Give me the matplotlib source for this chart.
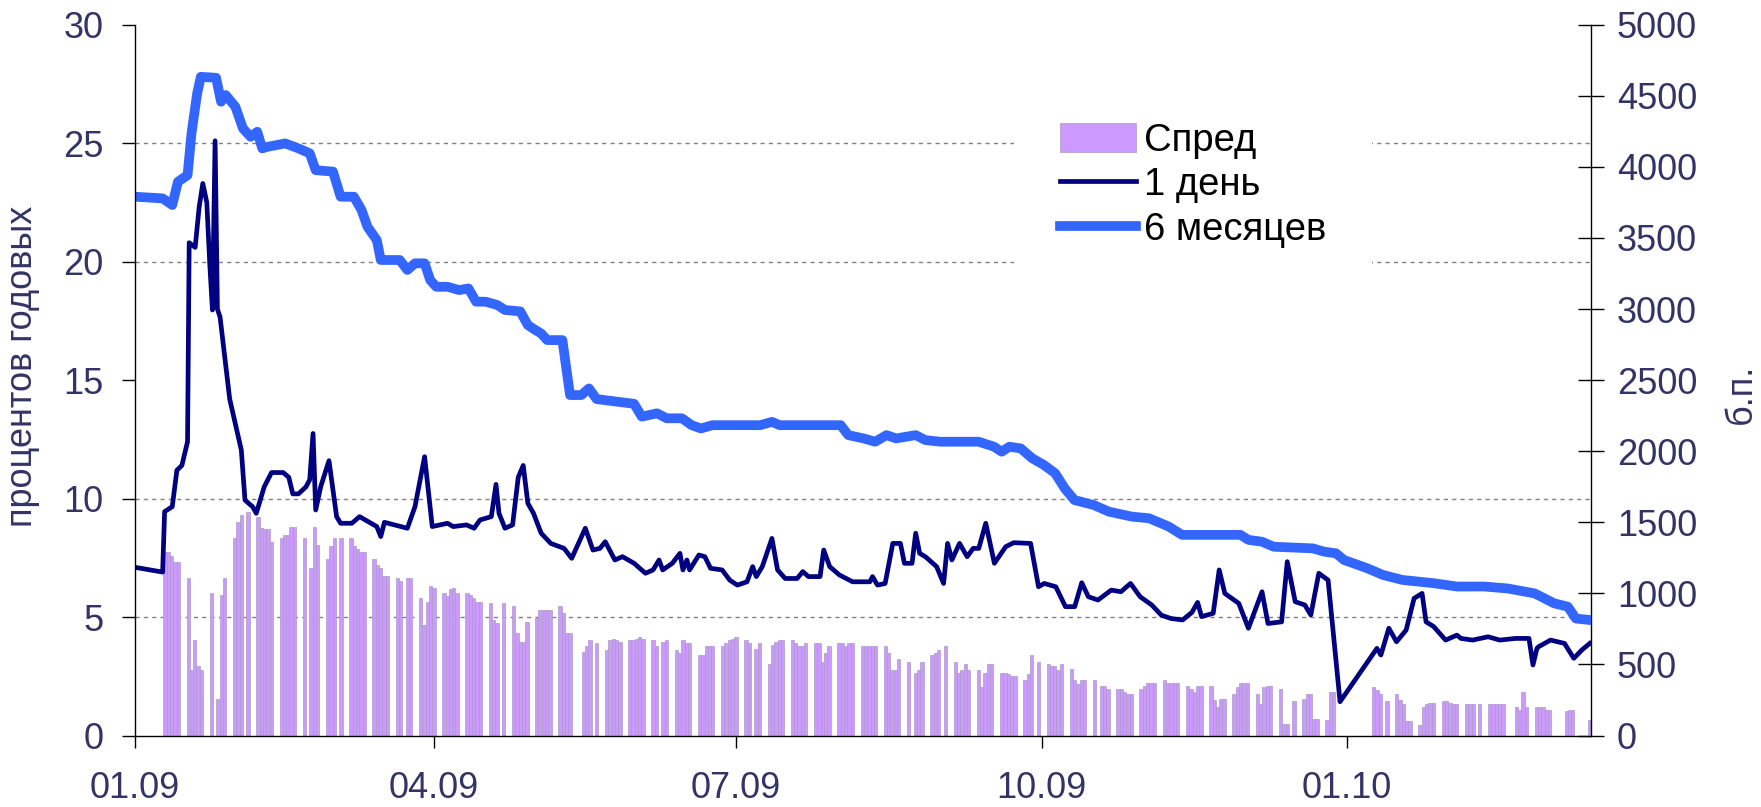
import pandas as pd
import matplotlib
matplotlib.use("Agg")
import matplotlib.pyplot as plt
import matplotlib.dates as mdates
from matplotlib.patches import Patch
from matplotlib.lines import Line2D

plt.rcParams['font.family'] = ['Liberation Sans', 'DejaVu Sans']

# --- data ----------------------------------------------------------------
start = pd.Timestamp("2009-01-01")

# "1 день" rate, % (left axis): day offset from 01.01.2009, value
day_1d = [0, 8.3, 8.9, 11.2, 12.6, 14.1, 15.8, 16.3, 18.1, 19.3, 20.4, 21.6, 22.5, 23.3,
          24.1, 24.8, 25.6, 28.5, 32.0, 33.1, 34.2, 35.4, 36.5, 38.9, 41.1, 44.6, 46.3,
          47.5, 49.2, 51.5, 52.6, 53.6, 54.4, 55.9, 58.4, 60.7, 61.9, 65.3, 67.6, 71.1,
          72.8, 74.0, 75.1, 82.0, 84.3, 87.2, 89.5, 94.1, 95.8, 99.8, 102.1, 103.9, 107.3,
          108.7, 109.6, 111.4, 113.7, 115.4, 116.9, 118.3, 120.0, 122.3, 125.2, 129.2,
          131.5, 135.6, 137.9, 140.0, 141.6, 144.5, 146.8, 150.3, 153.7, 156.0, 157.8,
          158.9, 161.8, 164.1, 165.0, 166.2, 167.0, 169.8, 171.6, 173.3, 176.8, 179.1,
          181.4, 184.3, 186.0, 187.1, 188.9, 191.8, 193.5, 195.8, 199.4, 201.1, 202.8,
          206.3, 207.4, 209.2, 212.1, 216.1, 221.3, 222.1, 223.6, 225.9, 228.2, 230.5,
          231.7, 234.0, 235.1, 236.3, 238.0, 241.4, 243.5, 244.7, 246.0, 248.3, 250.6,
          252.4, 254.1, 256.2, 258.8, 262.2, 264.6, 269.7, 272.1, 273.8, 277.3, 280.2,
          283.0, 285.1, 287.1, 290.0, 294.0, 296.9, 299.8, 302.7, 306.2, 309.1, 312.0,
          315.5, 318.3, 320.0, 321.2, 324.7, 326.5, 328.2, 332.4, 335.3, 339.4, 341.2,
          345.3, 347.0, 349.4, 352.3, 354.1, 356.5, 359.3, 362.9, 374.0, 375.2, 377.6,
          379.9, 382.8, 385.2, 387.6, 388.8, 391.1, 394.7, 398.1, 399.3, 402.8, 407.5,
          411.0, 415.7, 419.8, 421.0, 422.2, 422.7, 426.3, 430.5, 433.3, 435.7, 438.1]
val_1d = [7.1, 6.9, 9.45, 9.66, 11.2, 11.4, 12.4, 20.8, 20.6, 22.3, 23.3, 22.5, 19.9, 17.96,
          25.1, 18.0, 17.66, 14.2, 12.05, 9.94, 9.8, 9.66, 9.38, 10.5, 11.1, 11.1, 10.9,
          10.2, 10.2, 10.5, 10.8, 12.75, 9.52, 10.5, 11.6, 9.24, 8.96, 8.96, 9.24, 8.96,
          8.82, 8.4, 9.0, 8.75, 9.66, 11.77, 8.82, 8.96, 8.82, 8.89, 8.75, 9.1, 9.24,
          10.6, 9.38, 8.75, 8.89, 10.9, 11.4, 9.8, 9.38, 8.54, 8.11, 7.9,
          7.48, 8.75, 7.83, 7.9, 8.18, 7.41, 7.55, 7.27, 6.85, 6.99, 7.41,
          6.99, 7.27, 7.69, 6.99, 7.41, 6.99, 7.62, 7.55, 7.06, 6.99, 6.56,
          6.35, 6.49, 7.13, 6.71, 7.13, 8.32, 6.99, 6.63, 6.63, 6.92, 6.71,
          6.71, 7.83, 7.13, 6.78, 6.49, 6.49, 6.71, 6.35, 6.42, 8.11, 8.11,
          7.27, 7.27, 8.54, 7.69, 7.55, 7.13, 6.42, 8.11, 7.41, 8.11, 7.55,
          7.9, 7.9, 8.96, 7.27, 7.97, 8.14, 8.11, 6.28, 6.42, 6.28, 5.44,
          5.44, 6.45, 5.86, 5.72, 6.14, 6.07, 6.42, 5.86, 5.51, 5.08, 4.94,
          4.88, 5.2, 5.62, 5.02, 5.16, 6.99, 6.0, 5.58, 4.53, 6.07, 4.73,
          4.8, 7.34, 5.65, 5.51, 5.09, 6.85, 6.56, 1.43, 3.68, 3.4, 4.53,
          3.96, 4.45, 5.79, 6.0, 4.8, 4.6, 4.03, 4.24, 4.1, 4.03, 4.17,
          4.03, 4.1, 4.1, 2.98, 3.68, 3.75, 4.03, 3.89, 3.26, 3.61, 3.89]

# "6 месяцев" rate, % (left axis)
day_6m = [0, 8.3, 11.2, 12.9, 15.8, 17.0, 18.7, 19.8, 24.4, 25.9, 27.3, 30.2, 32.5, 34.8,
          36.8, 38.3, 40.0, 45.2, 49.2, 52.6, 54.4, 59.6, 61.9, 65.9, 68.2, 70.0, 72.8,
          74.0, 79.7, 82.0, 84.3, 87.2, 88.9, 90.7, 94.1, 97.6, 100.4, 102.7, 105.6,
          109.1, 111.4, 116.0, 118.3, 120.6, 122.3, 124.1, 128.7, 129.8, 131.0, 134.4,
          136.7, 139.0, 150.3, 152.6, 157.2, 160.1, 164.7, 167.6, 170.4, 173.9, 188.3,
          191.8, 194.1, 212.5, 214.8, 219.4, 222.9, 226.3, 229.2, 235.1, 238.0, 242.6,
          254.1, 258.7, 261.0, 263.3, 266.7, 270.2, 273.7, 277.1, 280.0, 282.9, 288.7,
          293.3, 300.2, 305.4, 311.3, 315.3, 332.9, 335.3, 339.4, 342.9, 354.7, 358.2,
          361.7, 364.1, 371.1, 375.8, 381.6, 391.1, 398.1, 406.3, 413.3, 421.5, 427.4,
          431.5, 433.9, 438.0]
val_6m = [22.74, 22.67, 22.39, 23.37, 23.65, 25.42, 27.1, 27.8, 27.76, 26.75, 27.03, 26.54,
          25.62, 25.27, 25.48, 24.78, 24.85, 24.99, 24.78, 24.57, 23.86, 23.8, 22.74, 22.74,
          22.18, 21.47, 20.91, 20.07, 20.07, 19.65, 19.93, 19.93, 19.22, 18.94, 18.94, 18.8,
          18.87, 18.31, 18.31, 18.17, 17.96, 17.9, 17.32, 17.11, 16.97, 16.69, 16.69, 15.57,
          14.37, 14.37, 14.65, 14.2, 14.0, 13.46, 13.6, 13.39, 13.39, 13.1, 12.96, 13.1,
          13.1, 13.24, 13.1, 13.1, 12.68, 12.54, 12.4, 12.68, 12.54, 12.68, 12.47, 12.4,
          12.4, 12.19, 11.98, 12.19, 12.12, 11.7, 11.42, 11.07, 10.43, 9.94, 9.73,
          9.45, 9.24, 9.17, 8.82, 8.47, 8.47, 8.26, 8.18, 7.97, 7.9, 7.76,
          7.69, 7.41, 7.06, 6.78, 6.57, 6.43, 6.29, 6.29, 6.21, 6.0, 5.58,
          5.44, 4.94, 4.88]

# "Спред", б.п. (right axis): one row per week, working days in order, 0 = no quote
spread_first_day = pd.Timestamp("2009-01-10")
spread_weeks = [
    [1290, 1290, 1260, 1220, 1220], [1110, 460, 670, 490, 460], [1000, 0, 260, 990, 1110],
    [1390, 1500, 1550, 0, 1570], [1540, 1460, 1450, 1450, 1360], [1390, 1410, 1410, 1470, 1470],
    [1390, 0, 1180, 1470, 1340], [1240, 1330, 1390, 0, 1390], [1390, 1330, 1310, 1290, 1290],
    [1240, 1200, 1180, 1120, 1120], [1110, 1090, 0, 1110, 1110], [970, 780, 940, 1050, 1040],
    [1000, 980, 1030, 1040, 1000], [1000, 990, 970, 940, 940], [930, 810, 790, 0, 930],
    [910, 720, 660, 660, 800], [830, 880, 880, 880, 880], [910, 860, 720, 720, 0],
    [590, 630, 670, 0, 650], [600, 670, 680, 670, 660], [670, 670, 680, 690, 680],
    [670, 630, 0, 660, 670], [600, 580, 670, 650, 650], [570, 570, 630, 630, 630],
    [630, 650, 670, 680, 690], [670, 650, 0, 610, 650], [500, 640, 660, 670, 670],
    [670, 650, 630, 630, 650], [650, 650, 520, 580, 630], [650, 650, 630, 650, 650],
    [630, 630, 630, 630, 630], [630, 580, 460, 460, 540], [520, 0, 440, 460, 520],
    [570, 580, 600, 0, 630], [520, 440, 460, 500, 460], [460, 340, 440, 500, 500],
    [440, 440, 430, 420, 420], [390, 430, 570, 0, 520], [500, 490, 490, 460, 500],
    [470, 390, 360, 390, 390], [390, 0, 350, 350, 330], [330, 330, 310, 290, 290],
    [330, 350, 370, 370, 370], [390, 370, 370, 370, 370], [350, 330, 310, 350, 350],
    [350, 250, 200, 260, 260], [290, 340, 370, 370, 370], [290, 220, 340, 350, 350],
    [330, 80, 80, 0, 240], [260, 290, 290, 120, 120], [110, 310, 310, 0, 0],
    [0, 0, 0, 0, 0], [340, 320, 290, 0, 240], [290, 250, 220, 100, 100],
    [75, 200, 220, 230, 230], [240, 240, 230, 220, 220], [220, 220, 220, 0, 220],
    [220, 220, 220, 220, 220], [0, 200, 180, 310, 200], [200, 200, 200, 180, 180],
    [0, 0, 170, 180, 180], [0, 0, 110],
]

left_ticks = [0, 5, 10, 15, 20, 25, 30]
right_ticks = list(range(0, 5001, 500))
x_ticks = ["2009-01-01", "2009-04-01", "2009-07-01", "2009-10-01", "2010-01-01"]

# --- build series ----------------------------------------------------------
dates_1d = start + pd.to_timedelta(day_1d, unit="D")
dates_6m = start + pd.to_timedelta(day_6m, unit="D")

bar_dates, bar_vals = [], []
for k, week in enumerate(spread_weeks):
    for d, v in enumerate(week):
        if v > 0:
            bar_dates.append(spread_first_day + pd.Timedelta(days=7 * k + d))
            bar_vals.append(v)

# --- plot -----------------------------------------------------------------
txt_color = "#333366"
fig = plt.figure(figsize=(17.61, 8.07), dpi=100)
ax = fig.add_axes([0.0767, 0.0885, 0.8268, 0.8809])
ax2 = ax.twinx()
ax.set_zorder(ax2.get_zorder() + 1)
ax.patch.set_visible(False)

ax2.bar(bar_dates, bar_vals, width=1.0, color="#CC99FF", edgecolor="#A99CC4", linewidth=0.5)
ax.plot(dates_1d, val_1d, color="#000080", lw=3.4)
ax.plot(dates_6m, val_6m, color="#3366FF", lw=7)

ax.set_xlim(start, start + pd.Timedelta(days=438.5))
ax.set_ylim(0, 30)
ax2.set_ylim(0, 5000)
ax.set_yticks(left_ticks)
ax2.set_yticks(right_ticks)
ax.set_xticks(pd.to_datetime(x_ticks))
ax.xaxis.set_major_formatter(mdates.DateFormatter("%m.%y"))

# grid lines follow the left scale, drawn behind the bars
ax2.set_yticks([v * 5000 / 30 for v in left_ticks[1:]], minor=True)
ax2.tick_params(axis="y", which="minor", length=0)
ax2.yaxis.grid(True, which="minor", color="#808080", linestyle=(0, (3, 3)), linewidth=1)
ax2.set_axisbelow(True)

for s in ["top", "right"]:
    ax.spines[s].set_visible(False)
for s in ["top", "left", "bottom"]:
    ax2.spines[s].set_visible(False)
for sp in [ax.spines["left"], ax.spines["bottom"], ax2.spines["right"]]:
    sp.set_linewidth(1.0)
    sp.set_color("black")

ax.tick_params(axis="y", direction="out", length=9.5, width=1, pad=13,
               labelsize=26, labelcolor=txt_color)
ax.tick_params(axis="x", direction="out", length=8.5, width=1, pad=17,
               labelsize=26, labelcolor=txt_color)
ax2.tick_params(axis="y", which="major", direction="inout", length=19, width=1, pad=9,
                labelsize=26, labelcolor=txt_color)

ax.set_ylabel("процентов годовых", fontsize=26, color=txt_color)
ax.yaxis.set_label_coords(-0.065, 0.52)
ax2.set_ylabel("б.п.", fontsize=26, color=txt_color, rotation=90)
ax2.yaxis.set_label_coords(1.091, 0.48)

handles = [Patch(facecolor="#CC99FF", edgecolor="#A99CC4", linewidth=0.5),
           Line2D([], [], color="#000080", lw=3.4),
           Line2D([], [], color="#3366FF", lw=7)]
ax.legend(handles, ["Спред", "1 день", "6 месяцев"], loc="upper left",
          bbox_to_anchor=(995 / 1761, 1 - 58 / 807), bbox_transform=fig.transFigure,
          fontsize=27.5, frameon=True, facecolor="white", edgecolor="none", framealpha=1,
          fancybox=False, handlelength=2.0, handleheight=0.8, handletextpad=0.2,
          labelspacing=0.22, borderpad=1.2)

fig.savefig("out.png", dpi=100)
